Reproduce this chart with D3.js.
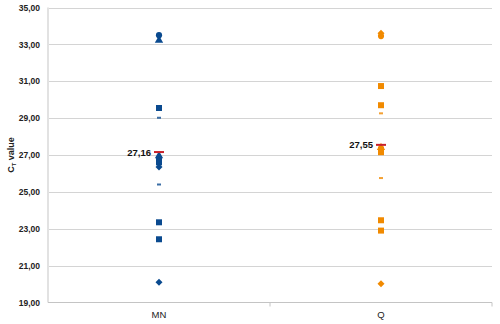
<!DOCTYPE html>
<html><head><meta charset="utf-8">
<script src="https://cdn.jsdelivr.net/npm/d3@7"></script>
<style>body{margin:0;background:#fff}svg{display:block}</style>
</head><body>
<svg id="c" width="500" height="324"></svg>
<script>
const categories = ["MN", "Q"];
const yTicks = [19,21,23,25,27,29,31,33,35];
const seriesColors = {"MN": "#0a4a8f", "Q": "#f18a00"};
// points per category, grouped by marker shape
const circleVals   = {MN: [33.50],                          Q: [33.45]};
const triangleVals = {MN: [33.22, 26.95],                   Q: [27.40]};
const squareVals   = {MN: [29.55, 26.75, 26.60, 23.35, 22.43], Q: [30.74, 29.70, 27.30, 27.15, 23.46, 22.90]};
const diamondVals  = {MN: [26.35, 20.10],                   Q: [33.60, 20.02]};
const dashVals     = {MN: [29.02, 25.40],                   Q: [29.26, 25.75]};
const meanVals     = {MN: 27.16, Q: 27.55};
const meanLabels   = {MN: "27,16", Q: "27,55"};

const svg = d3.select("#c");
const L = 48, R = 492, T = 7.5, B = 302.5;
const x = d3.scaleBand().domain(categories).range([L, R]);
const y = d3.scaleLinear().domain([19, 35]).range([B, T]);
const fmt = d => d.toFixed(2).replace(".", ",");

// gridlines
svg.append("g").selectAll("line").data(yTicks.filter(d => d > 19)).join("line")
  .attr("x1", L).attr("x2", R).attr("y1", d => Math.round(y(d)) + 0.5).attr("y2", d => Math.round(y(d)) + 0.5)
  .attr("stroke", "#d4d4d4").attr("stroke-width", 1);

// y axis line
svg.append("line").attr("x1", L).attr("x2", L).attr("y1", T).attr("y2", B)
  .attr("stroke", "#e2e2e2").attr("stroke-width", 2);

// y axis labels
const yAxis = d3.axisLeft(y).tickValues(yTicks).tickFormat(fmt).tickSize(0).tickPadding(8);
const ga = svg.append("g").attr("transform", `translate(${L},0)`).call(yAxis);
ga.select(".domain").remove();
ga.selectAll("text").attr("font-family", "Liberation Sans, Arial, sans-serif")
  .attr("font-size", 8.5).attr("font-weight", "bold").attr("fill", "#222");

// x axis
svg.append("line").attr("x1", L).attr("x2", R).attr("y1", B).attr("y2", B)
  .attr("stroke", "#c4c4c4").attr("stroke-width", 1.2);
const xAxis = d3.axisBottom(x).tickSize(0).tickPadding(9);
const gx = svg.append("g").attr("transform", `translate(0,${B})`).call(xAxis);
gx.select(".domain").remove();
gx.selectAll("text").attr("font-family", "Liberation Sans, Arial, sans-serif")
  .attr("font-size", 9.5).attr("fill", "#222");
svg.append("g").selectAll("line").data([x("Q"), R]).join("line")
  .attr("x1", d => d).attr("x2", d => d).attr("y1", B).attr("y2", B + 4)
  .attr("stroke", "#c4c4c4");

// y axis title
const tt = svg.append("text").attr("transform", "translate(14,155) rotate(-90)")
  .attr("text-anchor", "middle").attr("font-family", "Liberation Sans, Arial, sans-serif")
  .attr("font-size", 9).attr("font-weight", "bold").attr("fill", "#222");
tt.append("tspan").text("C");
tt.append("tspan").attr("font-size", 6).attr("dy", 2).text("T");
tt.append("tspan").attr("dy", -2).text(" value");

const cx = c => x(c) + x.bandwidth() / 2;
const g = svg.append("g");
const sym = (type, size) => d3.symbol().type(type).size(size)();
const diamondPath = "M0,-3.5L3.5,0L0,3.5L-3.5,0Z";

categories.forEach(c => {
  const col = seriesColors[c];
  const X = cx(c);
  g.selectAll(null).data(squareVals[c]).join("path")
    .attr("transform", d => `translate(${X},${y(d)})`).attr("d", sym(d3.symbolSquare, 36)).attr("fill", col);
  g.selectAll(null).data(diamondVals[c]).join("path")
    .attr("transform", d => `translate(${X},${y(d)})`).attr("d", diamondPath).attr("fill", col);
  g.selectAll(null).data(triangleVals[c]).join("path")
    .attr("transform", d => `translate(${X},${y(d)})`).attr("d", sym(d3.symbolTriangle, 30)).attr("fill", col);
  g.selectAll(null).data(circleVals[c]).join("path")
    .attr("transform", d => `translate(${X},${y(d)})`).attr("d", sym(d3.symbolCircle, 30)).attr("fill", col);
  g.selectAll(null).data(dashVals[c]).join("rect")
    .attr("x", X - 2).attr("y", d => y(d) - 1).attr("width", 4).attr("height", 2).attr("fill", col).attr("opacity", 0.8);
  // mean line
  g.append("line").attr("x1", X - 5).attr("x2", X + 5).attr("y1", y(meanVals[c])).attr("y2", y(meanVals[c]))
    .attr("stroke", "#c8202a").attr("stroke-width", 2);
  g.append("text").attr("x", X - 8).attr("y", y(meanVals[c]) + 3.5).attr("text-anchor", "end")
    .attr("font-family", "Liberation Sans, Arial, sans-serif").attr("font-size", 9.5).attr("font-weight", "bold")
    .attr("fill", "#111").text(meanLabels[c]);
});
</script>
</body></html>
